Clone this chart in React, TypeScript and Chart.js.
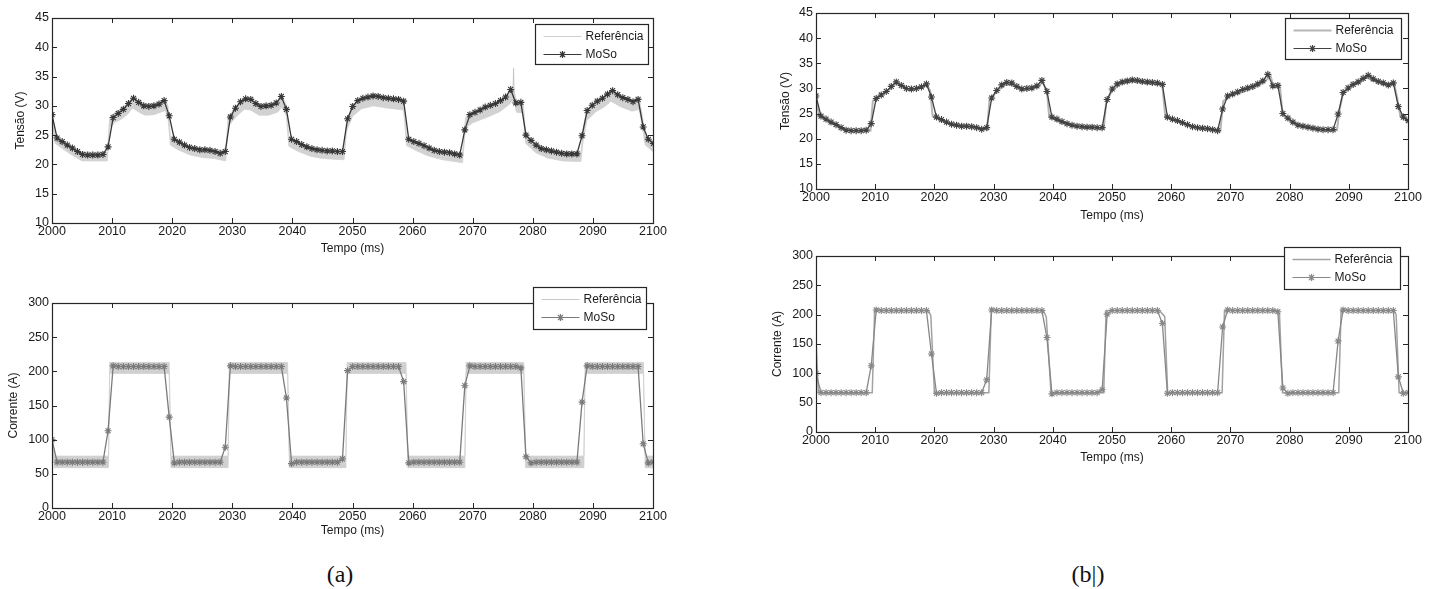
import React, { useEffect, useRef } from "react";
import { Chart, registerables } from "chart.js";

Chart.register(...registerables);

// ---------------- DATA ----------------
const seriesNames = ["Referência", "MoSo"];
const xTitle = "Tempo (ms)";
const yTitleV = "Tensão (V)";
const yTitleI = "Corrente (A)";
const xTicks = [2000, 2010, 2020, 2030, 2040, 2050, 2060, 2070, 2080, 2090, 2100];
const yTicksV = [10, 15, 20, 25, 30, 35, 40, 45];
const yTicksI = [0, 50, 100, 150, 200, 250, 300];

// MoSo sample instants (uniform sampling step of ~0.848 ms)
const mosoStep = 0.848;
const tMoSo = Array.from({ length: 119 }, (_, k) => 2000 + k * mosoStep);

const vMoSo = [
  28.5, 24.5, 23.9, 23.3, 22.8, 22.2, 21.7, 21.6, 21.6, 21.6, 21.7,
  23.0, 28.0, 28.7, 29.4, 30.4, 31.3, 30.6, 30.0, 29.9, 30.0, 30.3, 30.9,
  28.3, 24.3, 23.8, 23.3, 22.9, 22.7, 22.5, 22.5, 22.4, 22.2, 21.9, 22.2,
  28.1, 29.6, 30.7, 31.2, 31.1, 30.4, 29.9, 30.0, 30.1, 30.5, 31.6, 29.4,
  24.3, 23.9, 23.4, 23.0, 22.7, 22.5, 22.4, 22.3, 22.3, 22.2, 22.2, 27.8,
  29.9, 30.9, 31.3, 31.5, 31.7, 31.6, 31.4, 31.3, 31.2, 31.1, 30.8, 24.3,
  23.9, 23.6, 23.2, 22.8, 22.4, 22.2, 22.1, 22.0, 21.8, 21.6, 25.9, 28.5,
  28.9, 29.3, 29.8, 30.1, 30.4, 30.9, 31.5, 32.8, 30.5, 30.6, 25.0, 24.1,
  23.3, 22.7, 22.5, 22.3, 22.1, 21.9, 21.8, 21.8, 21.8, 24.9, 29.2, 30.1,
  30.8, 31.3, 32.0, 32.6, 31.9, 31.4, 31.1, 30.7, 31.1, 26.4, 24.3, 23.6,
];

const iMoSo = [
  100, 67, 67, 67, 67, 67, 67, 67, 67, 67, 67,
  113, 208, 207, 207, 207, 207, 207, 207, 207, 207, 207, 207,
  133, 66, 67, 67, 67, 67, 67, 67, 67, 67, 67, 89,
  208, 207, 207, 207, 207, 207, 207, 207, 207, 207, 207, 161,
  65, 67, 67, 67, 67, 67, 67, 67, 67, 67, 72, 201,
  207, 207, 207, 207, 207, 207, 207, 207, 207, 207, 185, 66,
  67, 67, 67, 67, 67, 67, 67, 67, 67, 67, 179, 208,
  207, 207, 207, 207, 207, 207, 207, 207, 207, 205, 75, 66,
  67, 67, 67, 67, 67, 67, 67, 67, 67, 155, 208, 207,
  207, 207, 207, 207, 207, 207, 207, 207, 207, 94, 66, 67,
];

// Reference voltage breakpoints
const tRefV = [
  2000.0, 2000.5, 2002.0, 2003.5, 2005.0, 2009.2, 2009.6, 2010.5, 2011.5, 2012.5,
  2013.4, 2014.5, 2015.5, 2017.0, 2018.8, 2019.3, 2019.7, 2021.0, 2023.0, 2025.0,
  2027.0, 2028.9, 2029.3, 2030.5, 2032.0, 2033.0, 2034.5, 2036.0, 2037.5, 2038.3,
  2039.0, 2039.4, 2041.0, 2043.0, 2045.0, 2048.6, 2049.0, 2050.0, 2051.5, 2053.5,
  2056.0, 2058.5, 2059.0, 2060.5, 2062.5, 2065.0, 2068.3, 2068.8, 2070.0, 2072.5,
  2074.5, 2076.0, 2076.8, 2077.3, 2078.4, 2078.8, 2080.5, 2082.5, 2085.0, 2088.0,
  2088.4, 2089.0, 2090.5, 2092.0, 2093.0, 2094.5, 2096.5, 2097.7, 2098.2, 2098.7,
  2100.0,
];
// (b) clean reference voltage
const refVB = [
  28.3, 24.6, 23.5, 22.6, 21.7, 21.6, 27.5, 28.4, 29.0, 29.9,
  31.0, 30.3, 29.8, 29.9, 30.6, 29.5, 24.5, 23.6, 22.7, 22.4,
  22.2, 21.8, 27.6, 29.4, 30.8, 30.7, 29.8, 29.8, 30.3, 31.2,
  29.6, 24.3, 23.4, 22.6, 22.2, 22.0, 27.0, 29.6, 30.9, 31.4,
  31.0, 30.7, 24.4, 23.6, 22.7, 22.0, 21.5, 27.5, 28.5, 29.5,
  30.4, 31.6, 32.4, 30.3, 30.2, 24.8, 23.2, 22.3, 21.8, 21.7,
  25.5, 28.9, 30.4, 31.3, 32.2, 31.3, 30.5, 30.8, 28.0, 24.5,
  23.4,
];
// (a) noisy reference voltage: upper / lower envelope
const refVHiA = [
  28.8, 25.0, 23.9, 23.0, 22.1, 22.1, 28.0, 28.9, 29.5, 30.4,
  31.5, 30.8, 30.3, 30.4, 31.1, 30.0, 24.9, 24.0, 23.1, 22.8,
  22.6, 22.3, 28.0, 29.9, 31.3, 31.2, 30.3, 30.3, 30.8, 31.7,
  30.1, 24.7, 23.8, 23.0, 22.6, 22.4, 27.5, 30.1, 31.4, 31.9,
  31.5, 31.2, 24.8, 24.0, 23.1, 22.4, 21.9, 28.0, 29.0, 30.0,
  30.9, 32.1, 32.9, 30.8, 30.7, 25.2, 23.6, 22.7, 22.2, 22.1,
  26.0, 29.4, 30.9, 31.8, 32.7, 31.8, 31.0, 31.3, 28.5, 24.9,
  23.8,
];
const refVLoA = [
  27.5, 23.6, 22.5, 21.5, 20.6, 20.6, 26.3, 27.2, 27.7, 28.5,
  29.6, 28.9, 28.4, 28.5, 29.2, 28.0, 23.3, 22.5, 21.6, 21.2,
  21.0, 20.6, 26.4, 28.0, 29.4, 29.3, 28.4, 28.4, 28.9, 29.8,
  28.2, 23.1, 22.2, 21.4, 21.0, 20.8, 25.7, 28.2, 29.5, 30.0,
  29.6, 29.3, 23.2, 22.4, 21.5, 20.8, 20.3, 26.2, 27.1, 28.1,
  29.0, 30.2, 31.0, 28.9, 28.8, 23.6, 22.0, 21.1, 20.6, 20.5,
  24.2, 27.5, 29.0, 29.9, 30.8, 29.9, 29.1, 29.4, 26.6, 23.3,
  22.2,
];
// (a) isolated reference spike
const tSpikeA = [2076.7, 2076.8, 2076.9];
const vSpikeA = [31.5, 36.4, 31.0];

// (a) noisy reference current: envelope breakpoints
const tRefIA = [
  2000.0, 2000.4, 2009.4, 2009.6, 2019.5, 2019.8, 2029.3, 2029.5, 2039.2, 2039.5,
  2048.9, 2049.1, 2058.9, 2059.2, 2068.7, 2068.9, 2078.5, 2078.8, 2088.5, 2088.7,
  2098.4, 2098.7, 2100.0,
];
const refIHiA = [108, 76, 76, 213, 213, 76, 76, 213, 213, 76, 76, 213, 213, 76, 76, 213, 213, 76, 76, 213, 213, 76, 76];
const refILoA = [95, 59, 59, 197, 197, 59, 59, 197, 197, 59, 59, 197, 197, 59, 59, 197, 197, 59, 59, 197, 197, 59, 59];

// (b) clean reference current breakpoints
const tRefIB = [
  2000.0, 2000.4, 2009.5, 2009.9, 2019.0, 2019.4, 2020.0, 2029.2, 2029.6, 2038.4,
  2038.9, 2039.7, 2048.6, 2049.0, 2058.0, 2058.9, 2059.4, 2068.6, 2069.0, 2077.9,
  2078.3, 2078.8, 2088.3, 2088.7, 2097.6, 2098.0, 2098.5, 2100.0,
];
const refIB = [
  155, 67, 67, 207, 207, 198, 67, 67, 207, 207,
  196, 67, 67, 207, 207, 197, 67, 67, 207, 207,
  200, 67, 67, 207, 207, 200, 67, 67,
];

// ---------------- HELPERS ----------------
const FONT = '"Liberation Sans", Arial, Helvetica, sans-serif';
const TXT = "#1a1a1a";

const pts = (t: number[], v: number[]) => t.map((x, i) => ({ x, y: v[i] }));

function drawStar(ctx: CanvasRenderingContext2D, x: number, y: number, r: number) {
  const d = r * 0.7071;
  ctx.beginPath();
  ctx.moveTo(x - r, y); ctx.lineTo(x + r, y);
  ctx.moveTo(x, y - r); ctx.lineTo(x, y + r);
  ctx.moveTo(x - d, y - d); ctx.lineTo(x + d, y + d);
  ctx.moveTo(x - d, y + d); ctx.lineTo(x + d, y - d);
  ctx.stroke();
}

const framePlugin = {
  id: "frame",
  afterDatasetsDraw(chart: any) {
    const { ctx, chartArea: a, scales } = chart;
    const x = scales.x, y = scales.y;
    ctx.save();
    ctx.strokeStyle = "#262626";
    ctx.lineWidth = 1;
    ctx.beginPath();
    for (const t of x.ticks) {
      const px = Math.round(x.getPixelForValue(t.value)) + 0.5;
      ctx.moveTo(px, a.bottom); ctx.lineTo(px, a.bottom - 5);
      ctx.moveTo(px, a.top); ctx.lineTo(px, a.top + 5);
    }
    for (const t of y.ticks) {
      const py = Math.round(y.getPixelForValue(t.value)) + 0.5;
      ctx.moveTo(a.left, py); ctx.lineTo(a.left + 5, py);
      ctx.moveTo(a.right, py); ctx.lineTo(a.right - 5, py);
    }
    ctx.stroke();
    ctx.lineWidth = 1.2;
    ctx.strokeRect(Math.round(a.left) + 0.5, Math.round(a.top) + 0.5, Math.round(a.right - a.left), Math.round(a.bottom - a.top));
    ctx.restore();
  },
};

const legendPlugin = {
  id: "boxLegend",
  afterDraw(chart: any, _args: any, o: any) {
    const { ctx, chartArea: a } = chart;
    const bx = Math.round(a.right - o.right - o.w) + 0.5;
    const by = Math.round(a.top + o.top) + 0.5;
    ctx.save();
    ctx.fillStyle = "#ffffff";
    ctx.fillRect(bx, by, o.w, o.h);
    ctx.strokeStyle = "#262626";
    ctx.lineWidth = 1.2;
    ctx.strokeRect(bx, by, o.w, o.h);
    const r0 = by + 12, r1 = by + 30;
    ctx.strokeStyle = o.refColor;
    ctx.lineWidth = o.refWidth;
    ctx.beginPath(); ctx.moveTo(bx + 8, r0); ctx.lineTo(bx + 46, r0); ctx.stroke();
    ctx.strokeStyle = o.mosoColor;
    ctx.lineWidth = 1.2;
    ctx.beginPath(); ctx.moveTo(bx + 8, r1); ctx.lineTo(bx + 46, r1); ctx.stroke();
    ctx.lineWidth = 1.2;
    drawStar(ctx, bx + 27, r1, 3.5);
    ctx.fillStyle = TXT;
    ctx.font = `12px ${FONT}`;
    ctx.textAlign = "left";
    ctx.textBaseline = "middle";
    ctx.fillText(seriesNames[0], bx + 50, r0);
    ctx.fillText(seriesNames[1], bx + 50, r1);
    ctx.restore();
  },
};

type Panel = {
  left: number; top: number; width: number; height: number;
  padTop: number; padRight: number; yW: number; xH: number;
  yMin: number; yMax: number; yTicks: number[]; yTitle: string;
  datasets: any[];
  legend: any;
};

function makeConfig(p: Panel): any {
  const font = { family: FONT, size: 12.5 };
  const tfont = { family: FONT, size: 12 };
  return {
    type: "line",
    data: { datasets: p.datasets },
    plugins: [framePlugin, legendPlugin],
    options: {
      animation: false,
      responsive: false,
      maintainAspectRatio: false,
      events: [],
      layout: { padding: { top: p.padTop, right: p.padRight, left: 0, bottom: 0 } },
      plugins: {
        legend: { display: false },
        tooltip: { enabled: false },
        boxLegend: p.legend,
      },
      scales: {
        x: {
          type: "linear",
          min: 2000,
          max: 2100,
          afterBuildTicks: (s: any) => { s.ticks = xTicks.map((v) => ({ value: v })); },
          afterFit: (s: any) => { s.height = p.xH; },
          grid: { display: false, drawTicks: false },
          border: { display: false },
          ticks: { font, color: TXT, padding: 1, maxRotation: 0, autoSkip: false, callback: (v: any) => String(v) },
          title: { display: true, text: xTitle, font: tfont, color: TXT, padding: 0 },
        },
        y: {
          type: "linear",
          min: p.yMin,
          max: p.yMax,
          afterBuildTicks: (s: any) => { s.ticks = p.yTicks.map((v) => ({ value: v })); },
          afterFit: (s: any) => { s.width = p.yW; },
          grid: { display: false, drawTicks: false },
          border: { display: false },
          ticks: { font, color: TXT, padding: 3, autoSkip: false, callback: (v: any) => String(v) },
          title: { display: true, text: p.yTitle, font: tfont, color: TXT, padding: 0 },
        },
      },
    },
  };
}

const mosoDs = (v: number[], color: string) => ({
  label: seriesNames[1],
  data: pts(tMoSo, v),
  borderColor: color,
  backgroundColor: color,
  borderWidth: 1.3,
  pointStyle: "star",
  pointRadius: 3.5,
  pointBorderWidth: 1.1,
  pointBorderColor: color,
  tension: 0,
  clip: 0,
});

const lineDs = (t: number[], v: number[], color: string, width: number) => ({
  label: seriesNames[0],
  data: pts(t, v),
  borderColor: color,
  backgroundColor: color,
  borderWidth: width,
  pointRadius: 0,
  tension: 0,
  clip: 0,
});

const bandDs = (t: number[], hi: number[], lo: number[], color: string) => [
  {
    label: seriesNames[0],
    data: pts(t, hi),
    borderColor: color,
    borderWidth: 0.8,
    pointRadius: 0,
    fill: "+1",
    backgroundColor: color,
    tension: 0,
    clip: 0,
  },
  {
    label: seriesNames[0],
    data: pts(t, lo),
    borderColor: color,
    borderWidth: 0.8,
    pointRadius: 0,
    fill: false,
    tension: 0,
    clip: 0,
  },
];

const panels: Panel[] = [
  {
    left: 13, top: 6, width: 662, height: 250,
    padTop: 12, padRight: 22, yW: 39, xH: 33,
    yMin: 10, yMax: 45, yTicks: yTicksV, yTitle: yTitleV,
    datasets: [
      mosoDs(vMoSo, "#373737"),
      lineDs(tSpikeA, vSpikeA, "#c4c4c4", 1),
      ...bandDs(tRefV, refVHiA, refVLoA, "#d2d2d2"),
    ],
    legend: { right: 5, top: 6, w: 113, h: 40, refColor: "#cfcfcf", refWidth: 1, mosoColor: "#373737" },
  },
  {
    left: 6, top: 280, width: 669, height: 258,
    padTop: 23, padRight: 22, yW: 46, xH: 30,
    yMin: 0, yMax: 300, yTicks: yTicksI, yTitle: yTitleI,
    datasets: [
      mosoDs(iMoSo, "#7a7a7a"),
      ...bandDs(tRefIA, refIHiA, refILoA, "#d0d0d0"),
    ],
    legend: { right: 7, top: -16, w: 113, h: 42, refColor: "#c8c8c8", refWidth: 1, mosoColor: "#7a7a7a" },
  },
  {
    left: 778, top: 0, width: 657, height: 223,
    padTop: 13, padRight: 27, yW: 38, xH: 34,
    yMin: 10, yMax: 45, yTicks: yTicksV, yTitle: yTitleV,
    datasets: [
      mosoDs(vMoSo, "#424242"),
      lineDs(tRefV, refVB, "#b6b6b6", 2),
    ],
    legend: { right: 7, top: 5, w: 116, h: 41, refColor: "#b6b6b6", refWidth: 2, mosoColor: "#424242" },
  },
  {
    left: 770, top: 236, width: 665, height: 229,
    padTop: 20, padRight: 27, yW: 46, xH: 33,
    yMin: 0, yMax: 300, yTicks: yTicksI, yTitle: yTitleI,
    datasets: [
      mosoDs(iMoSo, "#878787"),
      lineDs(tRefIB, refIB, "#a2a2a2", 1.5),
    ],
    legend: { right: 8, top: -9, w: 116, h: 42, refColor: "#a2a2a2", refWidth: 1.5, mosoColor: "#878787" },
  },
];

function PanelChart({ p }: { p: Panel }) {
  const ref = useRef<HTMLCanvasElement | null>(null);
  useEffect(() => {
    if (!ref.current) return;
    const chart = new Chart(ref.current, makeConfig(p));
    return () => chart.destroy();
  }, [p]);
  return (
    <canvas
      ref={ref}
      width={p.width}
      height={p.height}
      style={{ position: "absolute", left: p.left, top: p.top, width: p.width, height: p.height }}
    />
  );
}

const captions = [
  { text: "(a)", cx: 340 },
  { text: "(b|)", cx: 1088 },
];

export default function App() {
  useEffect(() => {
    document.body.style.margin = "0";
  }, []);
  return (
    <div style={{ position: "absolute", left: 0, top: 0, width: 1435, height: 589, background: "#fff", overflow: "hidden" }}>
      {panels.map((p, i) => (
        <PanelChart key={i} p={p} />
      ))}
      {captions.map((c, i) => (
        <div
          key={i}
          style={{
            position: "absolute",
            left: c.cx - 50,
            width: 100,
            top: 561,
            height: 26,
            lineHeight: "26px",
            textAlign: "center",
            fontFamily: '"Liberation Serif", "Times New Roman", serif',
            fontSize: 24,
            color: "#111",
          }}
        >
          {c.text}
        </div>
      ))}
    </div>
  );
}
